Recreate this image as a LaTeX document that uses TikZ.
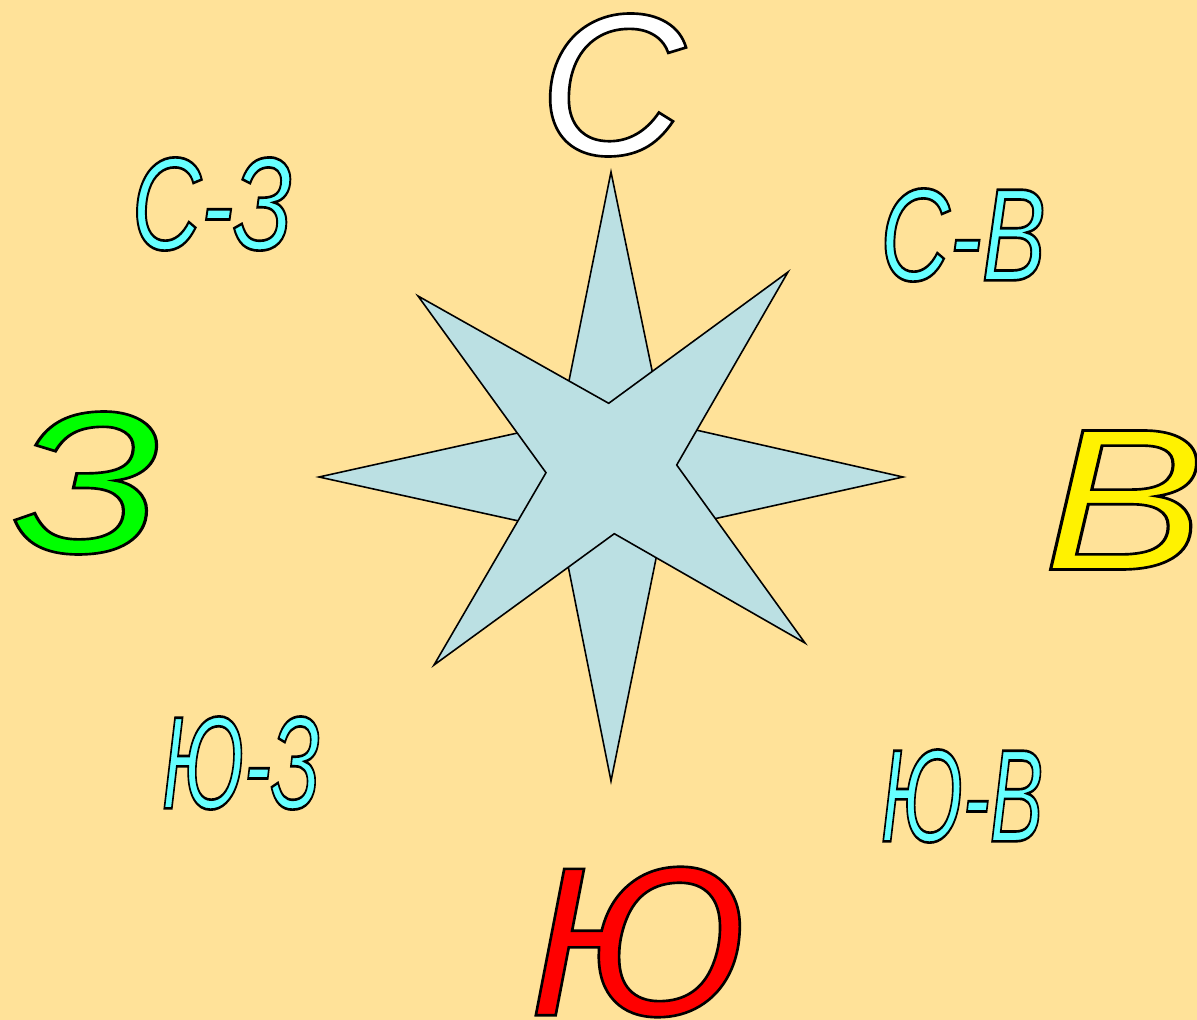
\documentclass[tikz,border=0pt]{standalone}
\usepackage{fontspec}
\setmainfont{Liberation Sans}
\usepackage{tikz}

\definecolor{bgsand}{RGB}{255,226,153}
\definecolor{starblue}{RGB}{187,224,227}
\definecolor{labcyan}{RGB}{102,255,255}

% coloured letters with a black rim
\newcommand{\rimtext}[2]{{\color{#1}\special{pdf:code 0 0 0 RG 2 Tr 1.5 w}#2\special{pdf:code 0 Tr}}}
\newcommand{\widthtext}[2]{\scalebox{#1}[1]{#2}}

\tikzset{
  mainlab/.style={inner sep=0pt, font=\fontsize{115}{115}\selectfont\itshape},
  sidelab/.style={inner sep=0pt, font=\fontsize{75}{75}\selectfont\itshape},
  starpart/.style={fill=starblue, draw=black, line width=0.9pt, line join=miter}
}

\begin{document}
\begin{tikzpicture}[x=0.02cm, y=-0.02cm]
    % Background
    \fill[bgsand] (0,0) rectangle (1197,1020);
    \useasboundingbox (0,0) rectangle (1197,1020);

    % Star along the main directions
    \draw[starpart]
        (611,172) -- (662.8,422.5) -- (903,477) -- (661.7,530.5) -- (611,781)
        -- (561,530.3) -- (319,477) -- (560.4,423.5) -- cycle;

    % Star along the intermediate directions
    \draw[starpart]
        (418,296) -- (608.7,403.3) -- (788,272) -- (676.7,465) -- (805,643)
        -- (614.3,533.7) -- (434,665) -- (546,472.7) -- cycle;

    % Main directions
    \node[mainlab] (north) at (612,85) {\rimtext{white}{С}};
    \node[mainlab] (east) at (1124,500) {\widthtext{1.2}{\rimtext{yellow}{В}}};
    \node[mainlab, font=\fontsize{121}{121}\selectfont\itshape] (south) at (638,942) {\rimtext{red}{Ю}};
    \node[mainlab] (west) at (87,483) {\widthtext{1.2}{\rimtext{green}{З}}};

    % Intermediate directions
    \node[sidelab] (northwest) at (212,204) {\widthtext{0.73}{\rimtext{labcyan}{С-З}}};
    \node[sidelab] (northeast) at (963,235) {\widthtext{0.73}{\rimtext{labcyan}{С-В}}};
    \node[sidelab] (southwest) at (241,763) {\widthtext{0.61}{\rimtext{labcyan}{Ю-З}}};
    \node[sidelab] (southeast) at (962,796) {\widthtext{0.61}{\rimtext{labcyan}{Ю-В}}};
\end{tikzpicture}
\end{document}
